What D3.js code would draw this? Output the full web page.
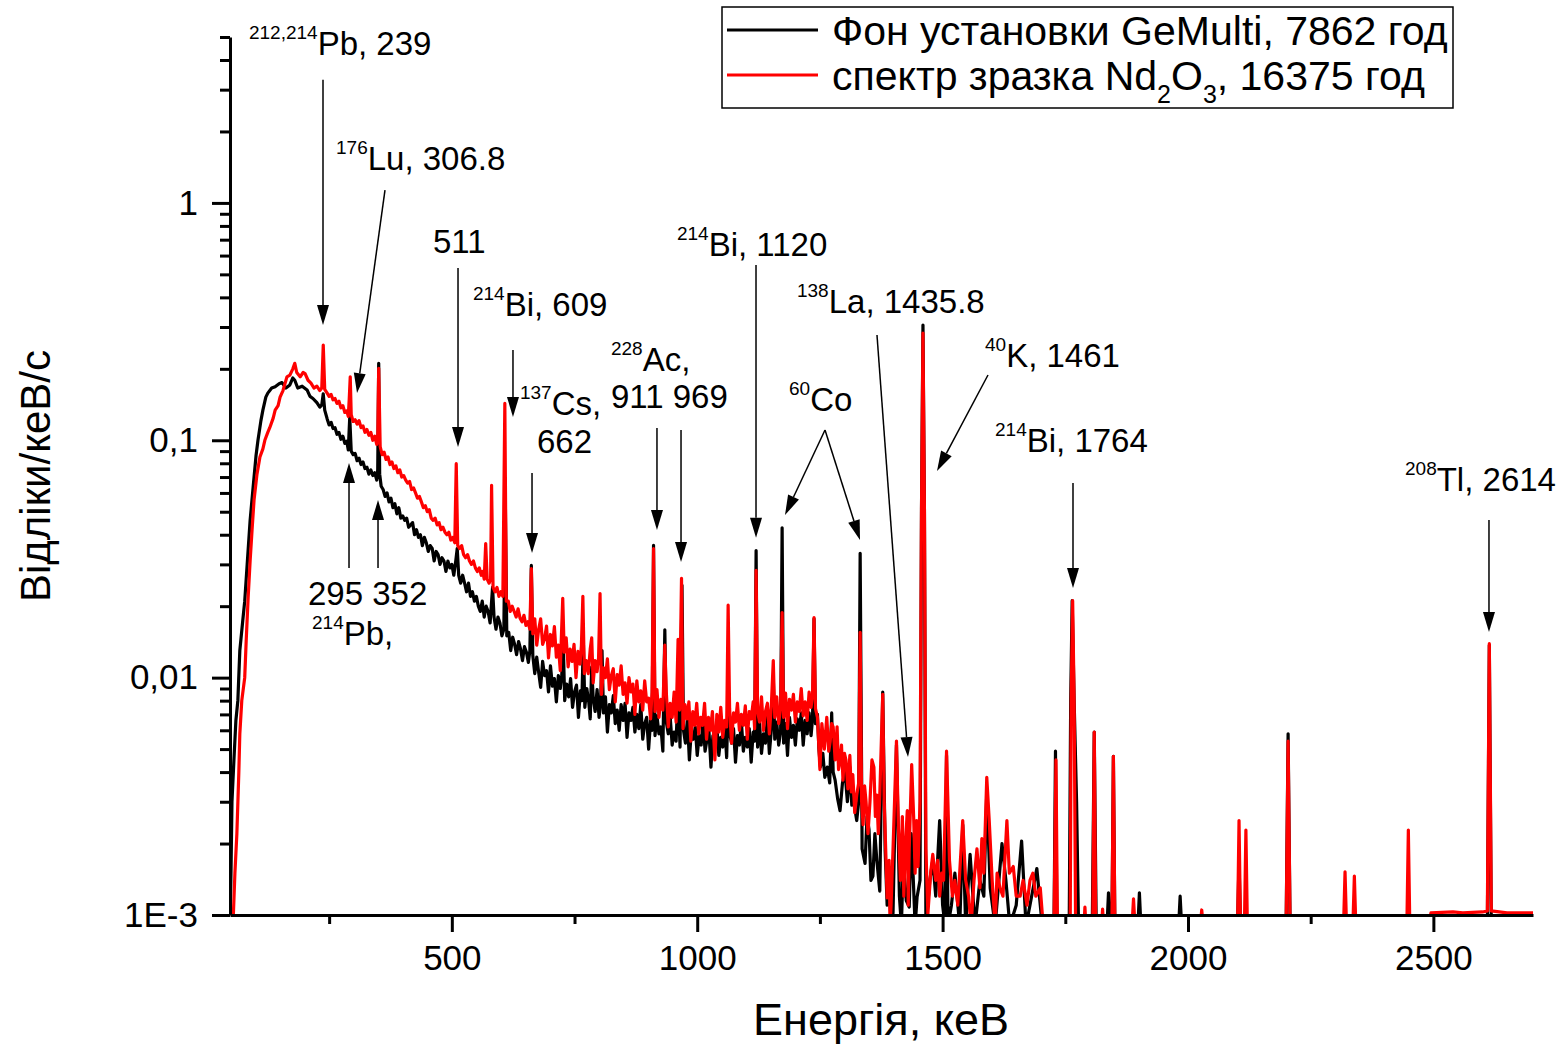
<!DOCTYPE html>
<html><head><meta charset="utf-8">
<script src="https://cdn.jsdelivr.net/npm/d3@7"></script>
<style>
html,body{margin:0;padding:0;background:#fff;}
svg{display:block;font-family:"Liberation Sans",Arial,Helvetica,sans-serif;}
</style></head><body>
<svg id="chart" width="1567" height="1044"></svg>
<script>
// ---------- DATA ----------
// Background spectrum of GeMulti (black): [energy keV, counts/keV/s]
const background = [
[48,0.0009],[50,0.0015],[52,0.003],[56,0.0045],[60,0.0066],[64,0.008],[68,0.013],[74,0.0174],[78,0.021],[83,0.030],[89,0.046],[95,0.063],[101,0.086],[105,0.100],[111,0.121],[115,0.134],[121,0.152],[125,0.158],[133,0.166],[140,0.168],[148,0.173],[154,0.175],[162,0.166],[170,0.171],[176,0.183],[180,0.179],[186,0.166],[195,0.169],[205,0.163],[211,0.153],[217,0.150],[225,0.144],[231,0.138],[235,0.141],[238,0.157],
[241,0.134],[246,0.123],[250,0.116],[254,0.119],[258,0.112],[262,0.113],[266,0.106],[270,0.108],[274,0.101],[278,0.104],[282,0.097],[286,0.099],[289,0.091],[292,0.125],[295,0.090],[299,0.087],[303,0.088],[307,0.082],[311,0.084],[315,0.079],[319,0.081],[323,0.076],[327,0.077],[331,0.072],[335,0.075],[339,0.071],[343,0.073],[347,0.068],[349,0.075],[351,0.211],[353,0.072],[356,0.064],[360,0.062],[364,0.058],[368,0.060],[372,0.055],[376,0.057],[380,0.052],[384,0.054],[388,0.049],[392,0.052],[396,0.047],
[400,0.048],[404,0.046],[408,0.047],[412,0.043],[416,0.044],[420,0.045],[424,0.040],[428,0.042],[432,0.039],[436,0.040],[440,0.036],[444,0.039],[448,0.037],[452,0.034],[456,0.036],[460,0.035],[464,0.031],[468,0.034],[472,0.033],[476,0.030],[480,0.032],[484,0.031],[488,0.028],[492,0.031],[496,0.029],[500,0.030],[504,0.027],[508,0.031],[511,0.035],[514,0.027],[518,0.025],[522,0.027],[526,0.025],[530,0.023],[534,0.025],[538,0.022],[542,0.023],[546,0.021],[550,0.022],[554,0.020],[558,0.019],[562,0.021],[566,0.018],[570,0.020],[574,0.019],[578,0.017],[583,0.024],[586,0.018],[590,0.016],[594,0.018],[598,0.017],[602,0.015],[606,0.016],[609,0.055],[612,0.015],[616,0.0155],[620,0.013],[624,0.0148],[628,0.0138],[632,0.0125],[636,0.0142],[640,0.0132],[644,0.0118],[648,0.0135],[652,0.0128],[656,0.0116],[659,0.013],[662,0.0297],
[665,0.0124],[669,0.0104],[673,0.0122],[677,0.0105],[681,0.0091],[685,0.0117],[689,0.0102],[693,0.0107],[697,0.0087],[701,0.0112],[705,0.0092],[709,0.0099],[713,0.0079],[717,0.0102],[721,0.0090],[724,0.0102],[727,0.014],[730,0.0080],[734,0.0094],[738,0.0083],[742,0.0099],[746,0.0075],[750,0.0087],[754,0.0093],[758,0.0068],[762,0.0088],[765,0.0080],[768,0.0143],[771,0.0075],[775,0.0090],[779,0.0079],[782,0.0067],[785,0.0111],[788,0.0082],[792,0.0072],[796,0.0089],[800,0.0068],[803,0.0077],[806,0.013],[809,0.0071],[813,0.0083],[817,0.0059],[821,0.0077],[825,0.0071],[829,0.0084],[833,0.0064],[837,0.0073],[841,0.0060],[845,0.0077],[849,0.0066],[853,0.0078],[857,0.0056],[861,0.0071],[865,0.0066],[869,0.0075],[873,0.0059],[877,0.0070],[881,0.0061],[885,0.0077],[889,0.0055],[893,0.0064],[897,0.0068],[901,0.0050],[905,0.0066],[908,0.0060],[911,0.0361],[914,0.0057],[918,0.0069],[922,0.0058],[926,0.0062],[930,0.0049],[934,0.0159],[937,0.0065],[941,0.0058],[945,0.0068],[949,0.0052],[953,0.0059],[957,0.0054],[961,0.0088],[965,0.0051],[969,0.0245],[972,0.0060],[976,0.0053],[980,0.0067],[984,0.0045],[988,0.0060],[992,0.0055],[996,0.0062],[1000,0.0047],[1004,0.0057],[1008,0.0052],[1012,0.0066],[1016,0.0049],[1020,0.0055],[1024,0.0059],[1028,0.0042],[1032,0.0057],[1036,0.0052],[1040,0.0062],[1044,0.0047],[1048,0.0056],[1052,0.0051],[1056,0.0063],[1060,0.0046],[1063,0.008],[1066,0.0058],[1070,0.0053],[1074,0.0061],[1078,0.0044],[1082,0.0057],[1086,0.0052],[1090,0.0065],[1094,0.0049],[1098,0.0056],[1102,0.0051],[1106,0.0061],[1110,0.0044],[1114,0.0059],[1117,0.0054],[1120,0.0343],[1123,0.0051],[1127,0.0064],[1131,0.0048],[1135,0.0058],[1139,0.0053],[1143,0.0068],[1147,0.0048],[1151,0.0060],[1155,0.010],[1158,0.0055],[1162,0.0065],[1166,0.0052],[1170,0.0059],[1173,0.0428],[1176,0.0053],[1180,0.0064],[1184,0.0047],[1188,0.0068],[1192,0.0056],[1196,0.0063],[1200,0.0052],[1204,0.0067],[1208,0.0060],[1212,0.0071],[1216,0.0052],[1220,0.0066],[1224,0.0058],[1228,0.0071],[1232,0.0057],[1235,0.0067],[1238,0.0177],[1241,0.0064],[1245,0.0070],[1248,0.0050],[1251,0.0042],
[1256,0.0048],[1260,0.0038],[1265,0.0042],[1270,0.0036],[1274,0.0071],[1277,0.0040],[1281,0.0037],[1286,0.0031],[1291,0.00275],[1296,0.0036],[1301,0.00405],[1306,0.0030],[1311,0.0042],[1315,0.0029],[1319,0.003],[1325,0.0025],[1329,0.003],[1332,0.0334],[1336,0.0019],[1342,0.00165],[1346,0.0026],[1350,0.0023],[1354,0.0014],[1358,0.00146],[1362,0.0022],[1366,0.0017],[1372,0.00126],[1378,0.0087],[1383,0.00186],[1387,0.0011],[1391,0.0014],[1395,0.0009],[1399,0.00102],[1406,0.0052],[1412,0.0012],[1416,0.0009],[1420,0.0017],[1426,0.00115],[1432,0.00108],[1436,0.0022],[1440,0.00146],[1444,0.0009],[1448,0.00119],[1454,0.0014],[1457,0.05],[1460,0.306],[1463,0.05],[1466,0.0009],[1474,0.0014],[1480,0.0017],[1486,0.0012],[1494,0.0025],[1500,0.0011],[1505,0.0009],[1508,0.0047],[1511,0.0009],[1518,0.0011],[1525,0.0015],[1535,0.0009],[1541,0.0024],[1547,0.0009],[1556,0.0018],[1566,0.0009],[1576,0.0014],[1584,0.0012],[1590,0.0033],[1597,0.0013],[1607,0.0009],[1621,0.002],[1629,0.0014],[1637,0.0009],[1650,0.0011],[1661,0.00205],[1670,0.0009],[1678,0.0011],[1692,0.00157],[1703,0.0009],[1727,0.0009],[1730,0.0049],[1733,0.0009],[1758,0.0009],[1761,0.008],[1764,0.0211],[1768,0.008],[1773,0.003],[1777,0.0009],[1805,0.0009],[1809,0.0059],[1813,0.0009],[1835,0.0009],[1838,0.00124],[1841,0.0009],[1845,0.0009],[1848,0.00466],[1851,0.0009],[1898,0.0009],[1901,0.00124],[1904,0.0009],[1981,0.0009],[1984,0.0012],[1987,0.0009],[2101,0.0009],[2104,0.0017],[2107,0.0009],[2200,0.0009],[2204,0.0058],[2208,0.0009],[2610,0.0009],[2614,0.0137],[2618,0.0009],[2703,0.0009]
];
// Nd2O3 sample spectrum (red)
const sample = [
[54,0.0009],[58,0.0015],[62,0.0022],[66,0.004],[68,0.0058],[72,0.008],[78,0.010],[81,0.0143],[85,0.0218],[89,0.031],[93,0.042],[97,0.056],[103,0.072],[109,0.085],[115,0.092],[119,0.100],[125,0.108],[129,0.113],[136,0.124],[140,0.134],[146,0.140],[150,0.152],[156,0.162],[164,0.185],[170,0.188],[176,0.200],[180,0.211],[184,0.193],[191,0.185],[197,0.193],[201,0.191],[207,0.179],[213,0.174],[219,0.166],[225,0.169],[231,0.162],[235,0.166],[238,0.252],
[241,0.164],[246,0.158],[250,0.153],[254,0.156],[258,0.148],[262,0.150],[266,0.143],[270,0.146],[274,0.137],[278,0.140],[282,0.131],[286,0.133],[289,0.126],[291,0.150],[293,0.185],[295,0.128],[299,0.120],[303,0.122],[307,0.117],[311,0.121],[315,0.113],[319,0.115],[323,0.108],[327,0.111],[331,0.105],[335,0.108],[339,0.100],[343,0.104],[347,0.096],[349,0.100],[351,0.201],[354,0.094],[358,0.087],[362,0.089],[366,0.083],[370,0.085],[374,0.079],[378,0.081],[382,0.076],[386,0.078],[390,0.073],[394,0.075],
[398,0.070],[402,0.071],[406,0.068],[410,0.066],[414,0.067],[418,0.062],[422,0.063],[426,0.060],[430,0.057],[434,0.058],[438,0.055],[442,0.052],[446,0.053],[450,0.050],[454,0.051],[458,0.047],[462,0.046],[466,0.047],[470,0.044],[474,0.045],[478,0.042],[482,0.043],[486,0.041],[490,0.040],[494,0.041],[498,0.038],[502,0.039],[506,0.037],[509,0.0797],[512,0.036],[516,0.035],[520,0.036],[524,0.033],[528,0.032],[532,0.033],[536,0.031],[540,0.030],[544,0.031],[548,0.029],[552,0.028],[556,0.029],[560,0.027],[563,0.028],[566,0.026],[569,0.0367],[572,0.026],[576,0.025],[579,0.026],[581,0.0646],[584,0.024],[588,0.023],[592,0.024],[596,0.022],[600,0.023],[604,0.022],[608,0.143],[611,0.021],[615,0.021],[619,0.019],[623,0.020],[627,0.019],[631,0.018],[635,0.0195],[639,0.0178],[643,0.0172],[647,0.0183],[651,0.0166],[655,0.0172],[659,0.016],[662,0.0288],
[665,0.0153],[669,0.0177],[673,0.0137],[677,0.0160],[681,0.0177],[685,0.0138],[689,0.0146],[693,0.0165],[697,0.0121],[701,0.0152],[705,0.0136],[709,0.0164],[713,0.0122],[717,0.0137],[721,0.0107],[723,0.0144],[726,0.0216],[729,0.0128],[733,0.0147],[737,0.0111],[741,0.0132],[745,0.0117],[749,0.0138],[753,0.0100],[757,0.0129],[761,0.0114],[764,0.0136],[767,0.022],[770,0.0104],[774,0.0118],[778,0.0104],[782,0.0132],[785,0.0147],[788,0.0095],[792,0.0118],[796,0.0106],[799,0.0121],[802,0.0226],[805,0.0085],[809,0.0110],[813,0.0100],[817,0.0120],[821,0.0089],[825,0.0102],[829,0.0109],[833,0.0079],[837,0.0103],[841,0.0093],[845,0.0112],[849,0.0085],[853,0.0095],[857,0.0078],[861,0.0100],[865,0.0087],[869,0.0094],[873,0.0070],[877,0.0097],[881,0.0079],[885,0.0088],[889,0.0073],[893,0.0097],[897,0.0079],[901,0.0082],[905,0.0067],[908,0.0087],[911,0.035],[914,0.0072],[918,0.0089],[922,0.0068],[926,0.0081],[930,0.0073],[934,0.0137],[937,0.0087],[941,0.0062],[945,0.0078],[949,0.0068],[953,0.0087],[957,0.0065],[961,0.0145],[964,0.0073],[968,0.0262],[971,0.0061],[975,0.0077],[979,0.0067],[983,0.0079],[987,0.0054],[991,0.0072],[995,0.0063],[999,0.0078],[1003,0.0058],[1007,0.0068],[1011,0.0063],[1015,0.0078],[1019,0.0055],[1023,0.0068],[1027,0.0060],[1031,0.0072],[1036,0.0045],[1040,0.0070],[1044,0.0059],[1048,0.0075],[1052,0.0056],[1056,0.0066],[1060,0.0062],[1063,0.0202],[1066,0.0074],[1070,0.0053],[1074,0.0071],[1078,0.0065],[1082,0.0078],[1086,0.0060],[1090,0.0070],[1094,0.0063],[1098,0.0076],[1102,0.0055],[1106,0.0072],[1110,0.0067],[1114,0.0079],[1117,0.0061],[1120,0.0283],[1123,0.0072],[1127,0.0065],[1131,0.0083],[1135,0.0060],[1139,0.0072],[1143,0.0078],[1147,0.0058],[1151,0.0076],[1155,0.0118],[1158,0.0068],[1162,0.0083],[1166,0.0064],[1170,0.0075],[1173,0.0188],[1176,0.0068],[1180,0.0086],[1184,0.0061],[1188,0.0081],[1192,0.0073],[1196,0.0085],[1200,0.0065],[1204,0.0079],[1208,0.0072],[1212,0.0090],[1216,0.0069],[1220,0.0079],[1224,0.0066],[1228,0.0087],[1232,0.0075],[1235,0.0084],[1238,0.0179],[1241,0.0074],[1245,0.0068],[1250,0.0041],
[1254,0.0064],[1259,0.0050],[1264,0.0068],[1268,0.0049],[1271,0.0054],[1274,0.0064],[1277,0.0062],[1281,0.0045],[1285,0.0062],[1288,0.0041],[1291,0.00447],[1294,0.0052],[1297,0.0037],[1300,0.0048],[1303,0.0045],[1307,0.0034],[1311,0.0047],[1314,0.0033],[1317,0.0039],[1321,0.0027],[1325,0.0032],[1329,0.0036],[1332,0.0155],[1335,0.003],[1338,0.0024],[1341,0.0035],[1344,0.003],[1348,0.0022],[1352,0.003],[1356,0.0045],[1360,0.0042],[1363,0.0026],[1366,0.0032],[1369,0.0022],[1372,0.0032],[1378,0.0085],[1381,0.003],[1384,0.0019],[1387,0.00118],[1391,0.0017],[1393,0.0009],[1395,0.0011],[1399,0.0019],[1406,0.0054],[1410,0.0023],[1414,0.0014],[1418,0.0026],[1421,0.0012],[1424,0.0019],[1428,0.00275],[1430,0.0011],[1432,0.0019],[1437,0.0043],[1441,0.0026],[1444,0.0015],[1447,0.0025],[1450,0.0016],[1454,0.003],[1457,0.05],[1460,0.283],[1463,0.05],[1466,0.0019],[1470,0.00101],[1476,0.00153],[1480,0.0018],[1486,0.0014],[1490,0.0017],[1494,0.0012],[1498,0.0015],[1502,0.0014],[1508,0.0049],[1514,0.0017],[1520,0.0012],[1525,0.0014],[1531,0.0011],[1541,0.0025],[1547,0.0014],[1553,0.0012],[1558,0.0009],[1564,0.0014],[1570,0.0019],[1576,0.0013],[1580,0.0021],[1584,0.0015],[1590,0.0038],[1595,0.0025],[1601,0.0014],[1607,0.0009],[1611,0.0015],[1617,0.0013],[1623,0.0012],[1631,0.0025],[1636,0.0015],[1644,0.0016],[1650,0.0012],[1658,0.0012],[1664,0.0014],[1672,0.0011],[1678,0.0014],[1684,0.0015],[1690,0.0012],[1699,0.0013],[1705,0.0009],[1727,0.0009],[1731,0.0045],[1734,0.0009],[1760,0.0009],[1762,0.008],[1765,0.0211],[1768,0.008],[1771,0.0009],[1788,0.0009],[1790,0.00108],[1792,0.0009],[1806,0.0009],[1809,0.0059],[1812,0.0009],[1824,0.0009],[1826,0.00106],[1828,0.0009],[1845,0.0009],[1848,0.00466],[1851,0.0009],[1886,0.0009],[1889,0.00117],[1892,0.0009],[2025,0.0009],[2028,0.00105],[2031,0.0009],[2101,0.0009],[2104,0.0025],[2107,0.0009],[2115,0.0009],[2118,0.00228],[2121,0.0009],[2200,0.0009],[2204,0.0054],[2208,0.0009],[2317,0.0009],[2320,0.00152],[2323,0.0009],[2336,0.0009],[2339,0.00146],[2342,0.0009],[2446,0.0009],[2449,0.00228],[2452,0.0009],[2490,0.0009],[2495,0.00102],[2540,0.00103],[2560,0.00102],[2600,0.00103],[2610,0.00104],[2614,0.0139],[2618,0.00104],[2650,0.00102],[2703,0.00102]
];

const xDomain = [48, 2703];
const yDomain = [0.001, 5];
const xMajorTicks = [500, 1000, 1500, 2000, 2500];
const xMinorTicks = [250, 750, 1250, 1750, 2250];
const yMajorTicks = [0.001, 0.01, 0.1, 1];
const yTickLabels = ["1E-3", "0,01", "0,1", "1"];
const yMinorTicks = [0.002,0.003,0.004,0.005,0.006,0.007,0.008,0.009,0.02,0.03,0.04,0.05,0.06,0.07,0.08,0.09,0.2,0.3,0.4,0.5,0.6,0.7,0.8,0.9,2,3,4,5];
const xTitle = "Енергія, кеВ";
const yTitle = "Відліки/кеВ/с";
const legendLabels = [
  [{t:"Фон установки GeMulti, 7862 год"}],
  [{t:"спектр зразка Nd"},{t:"2",sub:true},{t:"O"},{t:"3",sub:true},{t:", 16375 год"}]
];
// annotation labels: superscript isotope mass, main text, anchor [keV, counts]
const labels = [
  {sup:"212,214", main:"Pb, 239",    at:[86.7, 4.20]},
  {sup:"176",     main:"Lu, 306.8",  at:[264, 1.376]},
  {sup:"",        main:"511",        at:[461.6, 0.615]},
  {sup:"214",     main:"Bi, 609",    at:[543.1, 0.334]},
  {sup:"137",     main:"Cs,",        at:[638.9, 0.1278]},
  {sup:"",        main:"662",        at:[673.5, 0.0884]},
  {sup:"228",     main:"Ac,",        at:[824.3, 0.1957]},
  {sup:"",        main:"911 969",    at:[824.3, 0.1368]},
  {sup:"214",     main:"Bi, 1120",   at:[958.8, 0.5975]},
  {sup:"60",      main:"Co",         at:[1187, 0.1329]},
  {sup:"138",     main:"La, 1435.8", at:[1203.3, 0.3438]},
  {sup:"40",      main:"K, 1461",    at:[1586.4, 0.2035]},
  {sup:"214",     main:"Bi, 1764",   at:[1606.8, 0.0892]},
  {sup:"208",     main:"Tl, 2614",   at:[2442.2, 0.0611]},
  {sup:"",        main:"295 352",    at:[206.9, 0.0202]},
  {sup:"214",     main:"Pb,",        at:[215.1, 0.01372]}
];
// arrows: from [keV, counts] to [keV, counts]
const arrows = [
  {from:[237.5, 3.30],   to:[237.5, 0.306]},
  {from:[363.8, 1.133],  to:[306.8, 0.158]},
  {from:[512.6, 0.532],  to:[512.6, 0.0937]},
  {from:[624.6, 0.240],  to:[624.6, 0.1253]},
  {from:[663.4, 0.0728], to:[663.4, 0.0335]},
  {from:[918, 0.1126],   to:[918, 0.0419]},
  {from:[967, 0.1105],   to:[967, 0.0307]},
  {from:[1119.8, 0.5476],to:[1119.8, 0.0388]},
  {from:[1260.4, 0.1105],to:[1178.9, 0.0484]},
  {from:[1260.4, 0.1105],to:[1331.7, 0.0380]},
  {from:[1366.3, 0.2778],to:[1429.5, 0.00463]},
  {from:[1592.5, 0.1884],to:[1488.6, 0.0742]},
  {from:[1765.7, 0.0661],to:[1765.7, 0.02385]},
  {from:[2613.3, 0.0461],to:[2613.3, 0.01557]},
  {from:[290.5, 0.02896],to:[290.5, 0.0802]},
  {from:[349.6, 0.02896],to:[349.6, 0.0560]}
];

// ---------- DRAW ----------
const svg = d3.select("#chart");
svg.append("rect").attr("width",1567).attr("height",1044).attr("fill","#fff");
const plot = {left:230, right:1533, top:37, bottom:915};
const x = d3.scaleLinear().domain(xDomain).range([plot.left, plot.right]);
const y = d3.scaleLog().domain(yDomain).range([plot.bottom, plot.top]);

svg.append("defs").append("clipPath").attr("id","clip")
  .append("rect").attr("x",plot.left).attr("y",0)
  .attr("width",plot.right-plot.left).attr("height",plot.bottom);

const line = d3.line().x(d=>x(d[0])).y(d=>y(d[1]));
const dataG = svg.append("g").attr("clip-path","url(#clip)");
dataG.append("path").datum(background).attr("d",line)
  .attr("fill","none").attr("stroke","#000").attr("stroke-width",3.2).attr("stroke-linejoin","round");
dataG.append("path").datum(sample).attr("d",line)
  .attr("fill","none").attr("stroke","#ff0000").attr("stroke-width",3.2).attr("stroke-linejoin","round");

// axes
function styleAxis(g){
  g.select(".domain").attr("stroke","#000").attr("stroke-width",3);
  g.selectAll(".tick line").attr("stroke","#000").attr("stroke-width",3);
  g.selectAll(".tick text").attr("fill","#000").style("font-size","35px")
    .style("font-family",'"Liberation Sans",Arial,sans-serif');
}
const xAxisG = svg.append("g").attr("transform",`translate(0,${plot.bottom})`)
  .call(d3.axisBottom(x).tickValues(xMajorTicks).tickSize(17).tickSizeOuter(0).tickPadding(13).tickFormat(d3.format("d")));
styleAxis(xAxisG);
const xMinorG = svg.append("g").attr("transform",`translate(0,${plot.bottom})`)
  .call(d3.axisBottom(x).tickValues(xMinorTicks).tickSize(9).tickSizeOuter(0).tickFormat(""));
styleAxis(xMinorG);
xMinorG.select(".domain").remove();

const yAxisG = svg.append("g").attr("transform",`translate(${plot.left},0)`)
  .call(d3.axisLeft(y).tickValues(yMajorTicks).tickSize(18).tickSizeOuter(0).tickPadding(14)
    .tickFormat((d,i)=>yTickLabels[i]));
styleAxis(yAxisG);
const yMinorG = svg.append("g").attr("transform",`translate(${plot.left},0)`)
  .call(d3.axisLeft(y).tickValues(yMinorTicks).tickSize(10).tickSizeOuter(0).tickFormat(""));
styleAxis(yMinorG);
yMinorG.select(".domain").remove();

// axis titles
svg.append("text").attr("x",881).attr("y",1035).attr("text-anchor","middle")
  .style("font-size","45px").text(xTitle);
svg.append("text").attr("transform","translate(50,476) rotate(-90)").attr("text-anchor","middle")
  .style("font-size","42px").text(yTitle);

// arrows
const annG = svg.append("g");
arrows.forEach(a=>{
  const x1=x(a.from[0]), y1=y(a.from[1]), x2=x(a.to[0]), y2=y(a.to[1]);
  const dx=x2-x1, dy=y2-y1, L=Math.hypot(dx,dy), ux=dx/L, uy=dy/L;
  const hl=20, hw=6;
  const bx=x2-ux*hl, by=y2-uy*hl;
  annG.append("line").attr("x1",x1).attr("y1",y1).attr("x2",bx).attr("y2",by)
    .attr("stroke","#000").attr("stroke-width",1.5);
  annG.append("path").attr("d",`M${x2},${y2}L${bx-uy*hw},${by+ux*hw}L${bx+uy*hw},${by-ux*hw}Z`)
    .attr("fill","#000");
});
// labels
labels.forEach(l=>{
  const t = annG.append("text").attr("x",x(l.at[0])).attr("y",y(l.at[1])).attr("fill","#000");
  if(l.sup){
    t.append("tspan").style("font-size","19px").attr("dy",-16).text(l.sup);
    t.append("tspan").style("font-size","33px").attr("dy",16).text(l.main);
  } else {
    t.append("tspan").style("font-size","33px").text(l.main);
  }
});

// legend
const lg = svg.append("g");
lg.append("rect").attr("x",722).attr("y",7).attr("width",731).attr("height",101)
  .attr("fill","#fff").attr("stroke","#000").attr("stroke-width",1.5);
const legColors = ["#000","#ff0000"];
legendLabels.forEach((parts,i)=>{
  const ly = 30 + i*45;
  lg.append("line").attr("x1",727).attr("x2",818).attr("y1",ly).attr("y2",ly)
    .attr("stroke",legColors[i]).attr("stroke-width",3);
  const t = lg.append("text").attr("x",832).attr("y",ly+15).style("font-size","41px");
  let shifted=false;
  parts.forEach(p=>{
    const ts = t.append("tspan").text(p.t);
    if(p.sub){ ts.style("font-size","25px").attr("dy",13); shifted=true; }
    else if(shifted){ ts.attr("dy",-13); shifted=false; }
  });
});
</script>
</body></html>
